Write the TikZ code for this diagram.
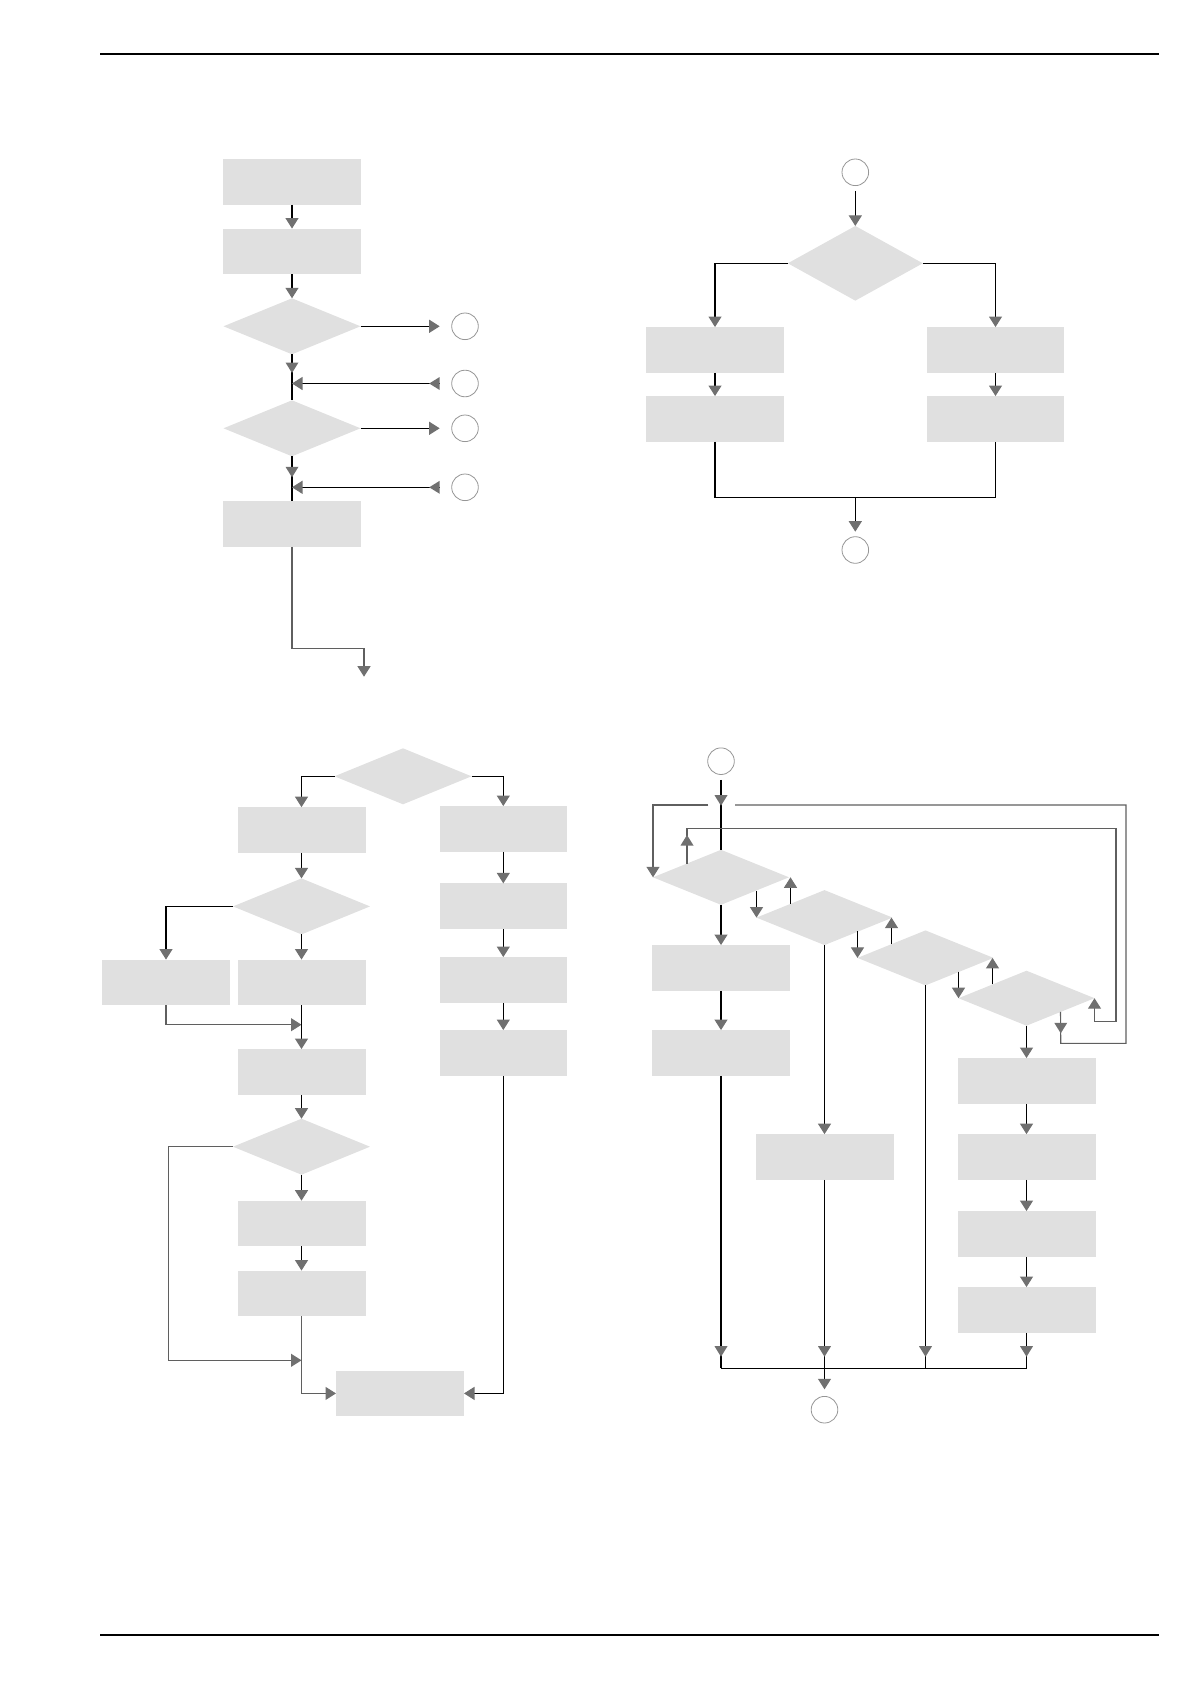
\documentclass[tikz,border=0pt]{standalone}
\usetikzlibrary{shapes.geometric,arrows.meta}
\definecolor{boxgray}{RGB}{224,224,224}
\definecolor{tipgray}{RGB}{112,112,112}
\definecolor{circgray}{RGB}{150,150,150}
\definecolor{lgray}{RGB}{95,95,95}
\newcommand{\tipD}[1]{\fill[tipgray] (#1) -- ++(-6.5,-10.5) -- ++(13,0) -- cycle;}
\newcommand{\tipU}[1]{\fill[tipgray] (#1) -- ++(-6.5,10.5) -- ++(13,0) -- cycle;}
\newcommand{\tipL}[1]{\fill[tipgray] (#1) -- ++(10.5,-6.5) -- ++(0,13) -- cycle;}
\begin{document}
\begin{tikzpicture}[x=0.5pt,y=-0.5pt,
  box/.style={rectangle,fill=boxgray,inner sep=0,outer sep=0,minimum width=69pt,minimum height=22.85pt},
  nbox/.style={box,minimum width=64pt},
  dia/.style={diamond,fill=boxgray,inner sep=0,outer sep=0,minimum width=68.5pt,minimum height=28pt},
  bdia/.style={dia,minimum width=68pt,minimum height=27.5pt},
  conn/.style={circle,draw=circgray,line width=0.4pt,minimum size=13.3pt,inner sep=0,outer sep=0},
  ln/.style={draw=black,line width=0.55pt},
  gln/.style={draw=lgray,line width=0.55pt},
  arr/.style={-{Triangle[width=6.5pt,length=5.25pt,color=tipgray,fill=tipgray]}},
]
\useasboundingbox (0,0) rectangle (1191,1685);
% header / footer rules
\coordinate (h1) at (100,54); \coordinate (h2) at (1159,54);
\coordinate (f1) at (100,1635); \coordinate (f2) at (1159,1635);
\draw[line width=0.75pt] (h1) -- (h2);
\draw[line width=0.75pt] (f1) -- (f2);

% ---------------- top left ----------------
\node[box] (tl1) at (292,182) {};
\node[box] (tl2) at (292,251.4) {};
\node[dia] (tld1) at (292,326.3) {};
\node[dia] (tld2) at (292,428.3) {};
\node[box] (tl3) at (292,523.9) {};
\node[conn] (c1) at (465,326.3) {};
\node[conn] (c2) at (465,383.5) {};
\node[conn] (c3) at (465,428.3) {};
\node[conn] (c4) at (465,487.3) {};
\coordinate (tlbend) at (364,648.7);
\coordinate (tlend) at (364,676.7);

\draw[ln,arr] (tl1) -- (tl2);
\draw[ln,arr] (tl2) -- (tld1);
\draw[ln,arr] (tld1.east) -- ([xshift=-6pt]c1.west);
\draw[ln] (tld1.south) -- (tld2.north);
\tipD{292,373}
\draw[ln,arr] ([xshift=-6pt]c2.west) -- (tld1.south |- c2);
\tipL{[xshift=-11.25pt]c2.west}
\draw[ln,arr] (tld2.east) -- ([xshift=-6pt]c3.west);
\draw[ln] (tld2.south) -- (tl3.north);
\tipD{292,477.3}
\draw[ln,arr] ([xshift=-6pt]c4.west) -- (tl3.north |- c4);
\tipL{[xshift=-11.25pt]c4.west}
\draw[gln,arr] (tl3.south) |- (tlbend) -- (tlend);

% ---------------- top right ----------------
\node[conn] (trc1) at (855.3,172.3) {};
\node[dia,minimum width=67.5pt,minimum height=37.35pt] (trd) at (855.3,263.3) {};
\node[box] (trl1) at (715,349.9) {};
\node[box] (trl2) at (715,418.9) {};
\node[box,minimum width=68.5pt] (trr1) at (995.5,349.9) {};
\node[box,minimum width=68.5pt] (trr2) at (995.5,418.9) {};
\node[conn] (trc2) at (855.3,550) {};
\coordinate (trj) at (855.3,497.3);
\draw[ln,arr] ([yshift=-2.7pt]trc1.south) -- (trd.north);
\draw[ln,arr] (trd.west) -| (trl1.north);
\draw[ln,arr] (trd.east) -| (trr1.north);
\draw[ln,arr] (trl1) -- (trl2);
\draw[ln,arr] (trr1) -- (trr2);
\draw[ln] (trl2.south) |- (trj) -| (trr2.south);
\draw[ln,arr] (trj) -- ([yshift=2.5pt]trc2.north);

% ---------------- bottom left ----------------
\node[dia] (bld1) at (403,776.3) {};
\node[nbox] (bla) at (301.5,830) {};
\node[nbox,minimum width=63.35pt] (blr1) at (503.3,828.9) {};
\node[dia] (bldb) at (301.5,906.4) {};
\node[nbox] (blc) at (166,982.4) {};
\node[nbox] (bld) at (301.5,982.4) {};
\node[nbox] (ble) at (301.5,1071.9) {};
\node[dia] (bldf) at (301.5,1146.7) {};
\node[nbox] (blg) at (301.5,1223.5) {};
\node[nbox] (blh) at (301.5,1293.4) {};
\node[nbox] (bli) at (400,1393.4) {};
\node[nbox,minimum width=63.35pt] (blr2) at (503.3,906.2) {};
\node[nbox,minimum width=63.35pt] (blr3) at (503.3,979.9) {};
\node[nbox,minimum width=63.35pt] (blr4) at (503.3,1052.9) {};
\coordinate (blj1) at (301.5,1024.7);
\coordinate (blj2) at (301.5,1360.3);
\coordinate (blk) at (168.3,1146.7);

\draw[ln,arr] (bld1.west) -| (bla.north);
\draw[ln,arr] (bld1.east) -| (blr1.north);
\draw[ln,arr] (bla) -- (bldb);
\draw[ln,arr] (bldb.west) -| (blc.north);
\draw[ln,arr] (bldb) -- (bld);
\draw[gln,arr] (blc.south) |- (blj1);
\draw[ln,arr] (bld) -- (ble);
\draw[ln,arr] (ble) -- (bldf);
\draw[gln,arr] (bldf.west) -- (blk) |- (blj2);
\draw[ln,arr] (bldf) -- (blg);
\draw[ln,arr] (blg) -- (blh);
\draw[gln,arr] (blh.south) |- (bli.west);
\draw[ln,arr] (blr1) -- (blr2);
\draw[ln,arr] (blr2) -- (blr3);
\draw[ln,arr] (blr3) -- (blr4);
\draw[ln,arr] (blr4.south) |- (bli.east);

% ---------------- bottom right ----------------
\node[conn] (brc1) at (721,761.2) {};
\node[bdia] (brd1) at (721,877.3) {};
\node[bdia] (brd2) at (824.5,917.6) {};
\node[bdia] (brd3) at (925.5,957.9) {};
\node[bdia] (brd4) at (1026.5,998.2) {};
\node[box,minimum width=68.65pt] (brb1) at (721,967.9) {};
\node[box,minimum width=68.65pt] (brb2) at (721,1052.9) {};
\node[box] (brm) at (824.5,1157) {};
\node[box] (brp1) at (1026.5,1080.9) {};
\node[box] (brp2) at (1026.5,1157) {};
\node[box] (brp3) at (1026.5,1233.9) {};
\node[box] (brp4) at (1026.5,1309.9) {};
\node[conn] (brc2) at (824.5,1409.7) {};

% entry
\draw[ln] ([yshift=-2.7pt]brc1.south) -- (brd1.north);
\tipD{721,805.7}

% outer loop
\coordinate (o1) at (1060.75,1043.3);
\coordinate (o2) at (1126,805);
\coordinate (o3) at (735,805);
\coordinate (o4) at (708.3,805);
\coordinate (o5) at (653,805);
\draw[gln] (brd4.south east) -- (o1) -| (o2) -- (o3);
\draw[gln,arr] (o4) -- (o5) -- (brd1.west);
\tipD{1060.75,1033.3}

% inner loop
\coordinate (i2) at (1116,828.3);
\coordinate (i3) at (1116,1021.7);
\draw[gln,arr] (brd1.north west) -- (brd1.north west |- i2) -- (i2) -- (i3) -- (brd4.east |- i3) -- (brd4.east);
\tipU{687,835}

% between diamonds
\draw[ln,arr] (brd2.west |- brd1.south east) -- (brd2.west);
\draw[ln,arr] (brd2.north west) -- (brd2.north west |- brd1.east);
\draw[ln,arr] (brd3.west |- brd2.south east) -- (brd3.west);
\draw[ln,arr] (brd3.north west) -- (brd3.north west |- brd2.east);
\draw[ln,arr] (brd4.west |- brd3.south east) -- (brd4.west);
\draw[ln,arr] (brd4.north west) -- (brd4.north west |- brd3.east);

% columns
\coordinate (bj1) at (721,1368.3);
\coordinate (bj2) at (824.5,1368.3);
\coordinate (bj3) at (925.5,1368.3);
\coordinate (bj4) at (1026.5,1368.3);
\draw[ln,arr] (brd1) -- (brb1);
\draw[ln,arr] (brb1) -- (brb2);
\draw[ln] (brb2.south) -- (bj1);
\tipD{721,1356.7}
\draw[ln,arr] (brd2.south) -- (brm.north);
\draw[ln] (brm.south) -- (bj2);
\tipD{824.5,1356.7}
\draw[ln] (brd3.south) -- (bj3);
\tipD{925.5,1356.7}
\draw[ln,arr] (brd4) -- (brp1);
\draw[ln,arr] (brp1) -- (brp2);
\draw[ln,arr] (brp2) -- (brp3);
\draw[ln,arr] (brp3) -- (brp4);
\draw[ln] (brp4.south) -- (bj4);
\tipD{1026.5,1356.7}
\draw[ln] (bj1) -- (bj4);
\draw[ln,arr] (bj2) -- ([yshift=3.55pt]brc2.north);
\end{tikzpicture}
\end{document}
